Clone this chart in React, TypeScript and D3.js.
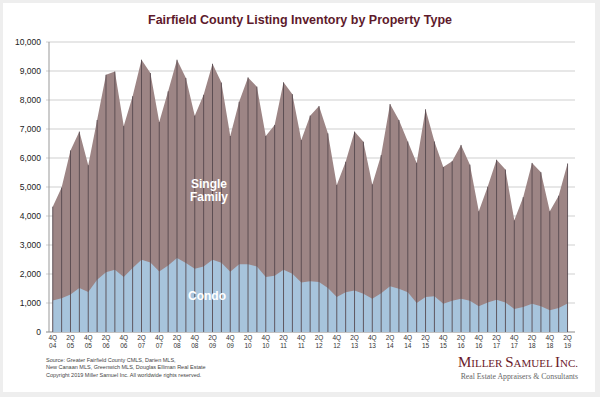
import * as d3 from "d3";

const quarters = [
  "4Q04",
  "1Q05", "2Q05", "3Q05", "4Q05",
  "1Q06", "2Q06", "3Q06", "4Q06",
  "1Q07", "2Q07", "3Q07", "4Q07",
  "1Q08", "2Q08", "3Q08", "4Q08",
  "1Q09", "2Q09", "3Q09", "4Q09",
  "1Q10", "2Q10", "3Q10", "4Q10",
  "1Q11", "2Q11", "3Q11", "4Q11",
  "1Q12", "2Q12", "3Q12", "4Q12",
  "1Q13", "2Q13", "3Q13", "4Q13",
  "1Q14", "2Q14", "3Q14", "4Q14",
  "1Q15", "2Q15", "3Q15", "4Q15",
  "1Q16", "2Q16", "3Q16", "4Q16",
  "1Q17", "2Q17", "3Q17", "4Q17",
  "1Q18", "2Q18", "3Q18", "4Q18",
  "1Q19", "2Q19",
];

// total listings (single family + condo)
const totals = [
  4320,
  4980, 6260, 6910, 5750,
  7310, 8870, 8980, 7100,
  8130, 9390, 8930, 7240,
  8300, 9390, 8760, 7460,
  8180, 9250, 8600, 6760,
  7940, 8780, 8460, 6760,
  7140, 8610, 8200, 6620,
  7460, 7790, 6850, 5070,
  5870, 6910, 6560, 5090,
  6100, 7860, 7310, 6570,
  5830, 7680, 6570, 5690,
  5890, 6450, 5770, 4160,
  5010, 5940, 5600, 3850,
  4650, 5830, 5510, 4160,
  4700, 5810,
];

const condo = [
  1090,
  1160, 1290, 1520, 1380,
  1800, 2060, 2150, 1900,
  2210, 2490, 2400, 2090,
  2290, 2550, 2380, 2180,
  2260, 2490, 2390, 2080,
  2340, 2340, 2260, 1900,
  1940, 2150, 2010, 1710,
  1750, 1720, 1520, 1210,
  1370, 1430, 1320, 1150,
  1340, 1580, 1490, 1370,
  1000, 1210, 1230, 970,
  1080, 1150, 1080, 885,
  1020, 1110, 1020, 790,
  860, 970, 885, 750,
  830, 980,
];

const yTicks = [0, 1000, 2000, 3000, 4000, 5000, 6000, 7000, 8000, 9000, 10000];

const W = 600;
const H = 397;
const left = 49;
const right = 575;
const top = 42;
const bottom = 332;

export default function App() {
  const x = d3.scalePoint<string>().domain(quarters).range([48.3, 572]).padding(0.5);
  const y = d3.scaleLinear().domain([0, 10000]).range([bottom, top]);

  const rows = quarters.map((q, i) => ({ q, total: totals[i], condo: condo[i] }));

  const totalArea = d3.area<typeof rows[0]>()
    .x(d => x(d.q)!)
    .y0(y(0))
    .y1(d => y(d.total))(rows)!;

  const condoArea = d3.area<typeof rows[0]>()
    .x(d => x(d.q)!)
    .y0(y(0))
    .y1(d => y(d.condo))(rows)!;

  const fmt = d3.format(",");

  return (
    <svg width={W} height={H} style={{ position: "absolute", left: 0, top: 0, fontFamily: "'Liberation Sans', Arial, sans-serif" }}>
      <rect width={W} height={H} fill="#eeeeee" />
      <rect x={3} y={3} width={592} height={389} fill="#ffffff" />

      <text x={300} y={24} textAnchor="middle" fontSize={12.5} fontWeight="bold" fill="#5e1a2b">
        Fairfield County Listing Inventory by Property Type
      </text>

      {/* grid */}
      {yTicks.map(t => (
        <g key={t}>
          <line x1={left - 3} x2={right} y1={y(t)} y2={y(t)} stroke={t === 0 ? "#888" : "#cfcfcf"} strokeWidth={1} />
          <text x={41} y={y(t) + 3} textAnchor="end" fontSize={8.5} fill="#222">{fmt(t)}</text>
        </g>
      ))}

      <path d={totalArea} fill="#9d8585" />
      <path d={condoArea} fill="#a7c4dc" />

      {/* drop lines */}
      {rows.map(d => (
        <line key={d.q} x1={x(d.q)} x2={x(d.q)} y1={y(0)} y2={y(d.total)} stroke="#52444a" strokeWidth={0.85} />
      ))}

      <line x1={left} x2={left} y1={top} y2={bottom} stroke="#999" strokeWidth={1} />

      {/* x labels */}
      {quarters.map((q, i) => i % 2 === 0 ? (
        <g key={q}>
          <text x={x(q)} y={340} textAnchor="middle" fontSize={6.5} fill="#333">{q.slice(0, 2)}</text>
          <text x={x(q)} y={348} textAnchor="middle" fontSize={6.5} fill="#333">{q.slice(2)}</text>
        </g>
      ) : null)}

      <text x={209} y={188} textAnchor="middle" fontSize={12} fontWeight="bold" fill="#ffffff">Single</text>
      <text x={209} y={201} textAnchor="middle" fontSize={12} fontWeight="bold" fill="#ffffff">Family</text>
      <text x={207} y={300} textAnchor="middle" fontSize={12} fontWeight="bold" fill="#ffffff">Condo</text>

      <g fontSize={5.5} fill="#444">
        <text x={46} y={362}>Source:  Greater Fairfield County CMLS, Darien MLS,</text>
        <text x={46} y={369}>New Canaan MLS, Greenwich MLS, Douglas Elliman Real Estate</text>
        <text x={46} y={377}>Copyright 2019 Miller Samuel Inc.  All worldwide rights reserved.</text>
      </g>

      <text x={578} y={367} textAnchor="end" fontFamily="'Liberation Serif', 'DejaVu Serif', serif" fill="#6b1a2a">
        <tspan fontSize={15}>M</tspan><tspan fontSize={11}>ILLER </tspan>
        <tspan fontSize={15}>S</tspan><tspan fontSize={11}>AMUEL </tspan>
        <tspan fontSize={15}>I</tspan><tspan fontSize={11}>NC.</tspan>
      </text>
      <text x={578} y={379} textAnchor="end" fontFamily="'Liberation Serif', 'DejaVu Serif', serif" fontSize={7.8} fill="#666">
        Real Estate Appraisers &amp; Consultants
      </text>
    </svg>
  );
}
